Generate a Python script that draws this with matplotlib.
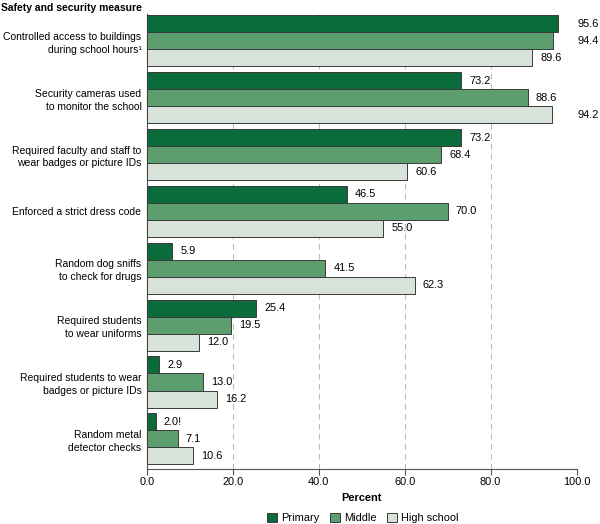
import numpy as np
import matplotlib.pyplot as plt

measures = [
    "Controlled access to buildings\nduring school hours\u00b9",
    "Security cameras used\nto monitor the school",
    "Required faculty and staff to\nwear badges or picture IDs",
    "Enforced a strict dress code",
    "Random dog sniffs\nto check for drugs",
    "Required students\nto wear uniforms",
    "Required students to wear\nbadges or picture IDs",
    "Random metal\ndetector checks",
]
primary = [95.6, 73.2, 73.2, 46.5, 5.9, 25.4, 2.9, 2.0]
middle = [94.4, 88.6, 68.4, 70.0, 41.5, 19.5, 13.0, 7.1]
high = [89.6, 94.2, 60.6, 55.0, 62.3, 12.0, 16.2, 10.6]
primary_labels = ["95.6", "73.2", "73.2", "46.5", "5.9", "25.4", "2.9", "2.0!"]

fs = 7.5     # category text
fn = 7.9     # numbers
plt.rcParams['font.family'] = ['Liberation Sans', 'DejaVu Sans']
fig = plt.figure(figsize=(6, 5.24), dpi=100)
ax = fig.add_axes([0.245, 0.105, 0.716, 0.868])

y = np.arange(len(measures))
h = 0.3
series = [
    (primary, "Primary", "#0b6b3a", primary_labels),
    (middle, "Middle", "#5d9e6f", None),
    (high, "High school", "#d7e3d9", None),
]
for i, (vals, name, col, labs) in enumerate(series):
    pos = y + (i - 1) * h
    ax.barh(pos, vals, height=h, color=col, edgecolor="#3a3a3a", linewidth=0.7,
            label=name, zorder=3)
    for p, v, k in zip(pos, vals, labs if labs else [f"{v:.1f}" for v in vals]):
        # labels that would cross the 100 line sit just past it
        lx = v + 1.9 if v + 1.9 + 6 < 100 else 100.3
        ax.text(lx, p, k, va="center", ha="left", fontsize=fn, clip_on=False)

ax.set_ylim(len(measures) - 0.47, -0.47)
ax.set_xlim(0, 100)
ax.set_xticks(np.arange(0, 101, 20))
ax.set_xticklabels([f"{t:.1f}" for t in np.arange(0, 101, 20)], fontsize=fn)
ax.set_yticks(y)
ax.set_yticklabels(measures, fontsize=fs, linespacing=1.35)
ax.tick_params(axis="y", length=0, pad=4)
ax.tick_params(axis="x", length=4, color="#555555", pad=2)
ax.xaxis.grid(True, linestyle=(0, (5, 4)), color="#bbbbbb", linewidth=0.8, zorder=0)
for s in ["top", "right"]:
    ax.spines[s].set_visible(False)
for s in ["left", "bottom"]:
    ax.spines[s].set_color("#555555")
ax.set_xlabel("Percent", fontsize=fn, fontweight="bold", labelpad=4)
fig.text(0.002, 0.985, "Safety and security measure", fontsize=fs,
         fontweight="bold", ha="left", va="center")
fig.legend(loc="center", bbox_to_anchor=(0.605, 0.012), ncol=3, frameon=False,
           fontsize=fn, handlelength=0.9, handleheight=0.9, columnspacing=1.0,
           handletextpad=0.35)
fig.savefig("out.png", dpi=100)
